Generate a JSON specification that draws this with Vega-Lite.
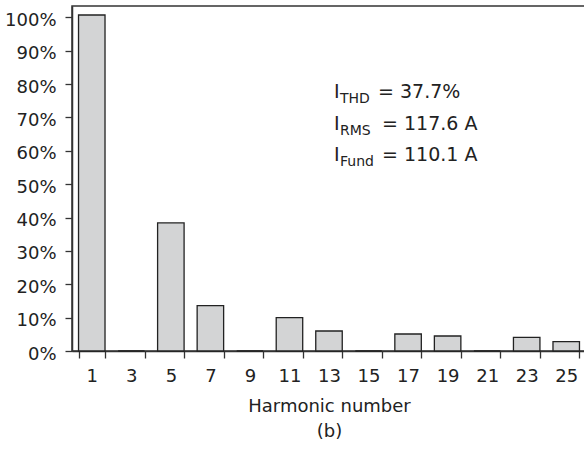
{
  "$schema": "https://vega.github.io/schema/vega-lite/v6.json",
  "width": 514,
  "height": 345,
  "autosize": {"type": "none"},
  "padding": {"left": 72, "top": 6, "right": 0, "bottom": 99},
  "background": "white",
  "config": {"view": {"stroke": "#333", "strokeWidth": 1.5}, "font": "DejaVu Sans"},
  "datasets": {
    "bars": [
      {"harmonic": "1", "pct": 100.7},
      {"harmonic": "3", "pct": 0},
      {"harmonic": "5", "pct": 38.4},
      {"harmonic": "7", "pct": 13.6},
      {"harmonic": "9", "pct": 0},
      {"harmonic": "11", "pct": 10.0},
      {"harmonic": "13", "pct": 6.0},
      {"harmonic": "15", "pct": 0},
      {"harmonic": "17", "pct": 5.1},
      {"harmonic": "19", "pct": 4.5},
      {"harmonic": "21", "pct": 0},
      {"harmonic": "23", "pct": 4.1},
      {"harmonic": "25", "pct": 2.8}
    ],
    "notes": [
      {"harmonic": "13", "pct": 75.9, "main": "I", "sub": "THD", "rest": "= 37.7%", "row": 1},
      {"harmonic": "13", "pct": 66.3, "main": "I", "sub": "RMS", "rest": "= 117.6 A", "row": 2},
      {"harmonic": "13", "pct": 57.0, "main": "I", "sub": "Fund", "rest": "= 110.1 A", "row": 3}
    ]
  },
  "encoding": {
    "x": {
      "field": "harmonic", "type": "ordinal", "sort": null,
      "scale": {"domain": ["1","3","5","7","9","11","13","15","17","19","21","23","25"], "paddingInner": 0.33, "paddingOuter": 0.165},
      "axis": {
        "title": ["Harmonic number", "(b)"],
        "titleLineHeight": 25,
        "titleFontSize": 18,
        "titleFontWeight": "normal",
        "titleColor": "#222",
        "titlePadding": 12,
        "labelFontSize": 18,
        "labelColor": "#222",
        "labelAngle": 0,
        "labelPadding": 9,
        "labelOverlap": false,
        "tickSize": 7,
        "tickColor": "#333",
        "tickWidth": 1.3,
        "domainColor": "#333",
        "domainWidth": 1.5,
        "tickBand": "extent",
        "grid": false
      }
    },
    "y": {
      "field": "pct", "type": "quantitative",
      "scale": {"domain": [0, 103.4], "nice": false},
      "axis": {
        "title": null,
        "values": [0, 10, 20, 30, 40, 50, 60, 70, 80, 90, 100],
        "tickCount": 11,
        "labelExpr": "datum.value + '%'",
        "labelFontSize": 18,
        "labelColor": "#222",
        "labelPadding": 9,
        "labelOffset": 3,
        "labelOverlap": false,
        "labelBound": false,
        "labelFlush": false,
        "tickSize": 7,
        "tickColor": "#333",
        "tickWidth": 1.3,
        "domainColor": "#333",
        "domainWidth": 1.5,
        "grid": false
      }
    }
  },
  "layer": [
    {
      "data": {"name": "bars"},
      "mark": {"type": "bar", "fill": "#d3d4d5", "stroke": "#222", "strokeWidth": 1.3}
    },
    {
      "data": {"name": "notes"},
      "mark": {"type": "text", "align": "left", "baseline": "alphabetic", "dx": 5, "fontSize": 19, "fill": "#222"},
      "encoding": {"text": {"field": "main"}}
    },
    {
      "data": {"name": "notes"},
      "mark": {"type": "text", "align": "left", "baseline": "alphabetic", "dx": 11, "dy": 5, "fontSize": 14, "fill": "#222"},
      "encoding": {"text": {"field": "sub"}}
    },
    {
      "data": {"name": "notes"},
      "transform": [{"filter": "datum.row == 1"}],
      "mark": {"type": "text", "align": "left", "baseline": "alphabetic", "dx": 49, "fontSize": 19, "fill": "#222"},
      "encoding": {"text": {"field": "rest"}}
    },
    {
      "data": {"name": "notes"},
      "transform": [{"filter": "datum.row != 1"}],
      "mark": {"type": "text", "align": "left", "baseline": "alphabetic", "dx": 53, "fontSize": 19, "fill": "#222"},
      "encoding": {"text": {"field": "rest"}}
    }
  ]
}
